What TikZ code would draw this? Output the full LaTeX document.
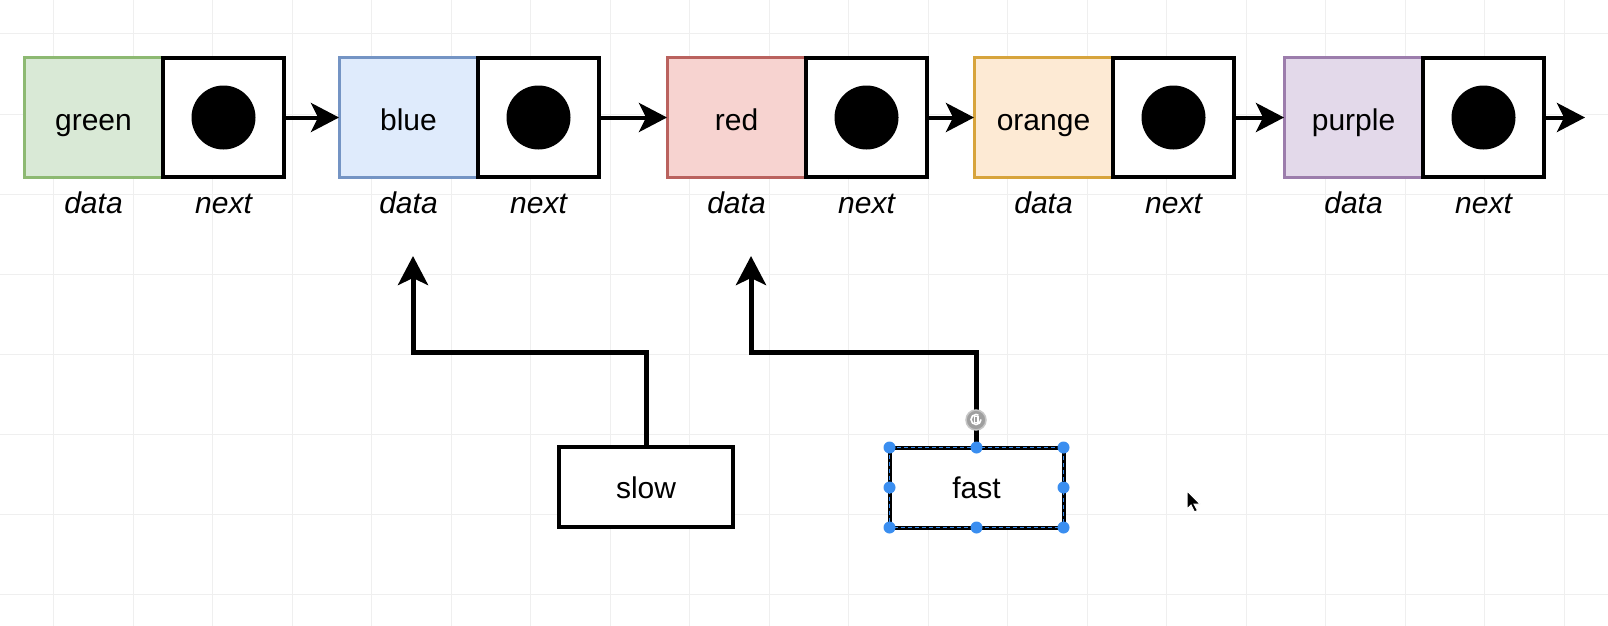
\documentclass[tikz,border=0pt]{standalone}
\usepackage{fontspec}
\setmainfont{Liberation Sans}
\usetikzlibrary{arrows.meta}
\definecolor{gfill}{HTML}{D9E9D6}
\definecolor{gdraw}{HTML}{8DB972}
\definecolor{bfill}{HTML}{DFEBFC}
\definecolor{bdraw}{HTML}{7494C4}
\definecolor{rfill}{HTML}{F7D3D0}
\definecolor{rdraw}{HTML}{BA625E}
\definecolor{ofill}{HTML}{FDEAD4}
\definecolor{odraw}{HTML}{D7A43C}
\definecolor{pfill}{HTML}{E3D9EA}
\definecolor{pdraw}{HTML}{9C7DAC}
\definecolor{gridc}{HTML}{EFEFEF}
\definecolor{handleblue}{HTML}{3A8EF0}
\begin{document}
\begin{tikzpicture}[x=1pt,y=-1pt,
 lbl/.style={font=\fontsize{30}{36}\selectfont\itshape, inner sep=0, anchor=base},
 datacell/.style={line width=3pt, minimum width=139pt, minimum height=119pt, inner sep=0, outer sep=0, anchor=west, font=\fontsize{30}{36}\selectfont, text height=26pt, text depth=0pt},
 nextcell/.style={draw=black, fill=white, line width=4pt, minimum width=121pt, minimum height=119pt, inner sep=0, outer sep=0, anchor=west},
 dot/.style={circle, fill=black, minimum size=64pt, inner sep=0},
 link/.style={line width=4pt, -{Stealth[length=28pt, width=29pt, inset=7pt]}},
 ptr/.style={line width=5pt, -{Stealth[length=29pt, width=30pt, inset=7pt]}},
 ptrbox/.style={draw=black, fill=white, line width=4pt, minimum width=174pt, minimum height=80pt, inner sep=0, outer sep=0, font=\fontsize{30}{36}\selectfont, text height=22pt, text depth=0pt},
 handle/.style={circle, fill=handleblue, minimum size=12pt, inner sep=0},
 gridline/.style={draw=gridc, line width=1pt},
]
\useasboundingbox[fill=white] (0,0) rectangle (1608,626);
% grid
\foreach \i in {0,...,19} \draw[gridline] ({53.5+79.5*\i},0) -- ({53.5+79.5*\i},626);
\foreach \j in {0,...,7} \draw[gridline] (0,{34+80*\j}) -- (1608,{34+80*\j});

% cells
\node[datacell, draw=gdraw, fill=gfill] (dg) at (24,117.5) {green};
\node[nextcell] (ng) at (dg.east) {};
\node[datacell, draw=bdraw, fill=bfill] (db) at (339,117.5) {blue};
\node[nextcell] (nb) at (db.east) {};
\node[datacell, draw=rdraw, fill=rfill] (dr) at (667,117.5) {red};
\node[nextcell] (nr) at (dr.east) {};
\node[datacell, draw=odraw, fill=ofill] (do) at (974,117.5) {orange};
\node[nextcell] (no) at (do.east) {};
\node[datacell, draw=pdraw, fill=pfill] (dp) at (1284,117.5) {purple};
\node[nextcell] (np) at (dp.east) {};

\foreach \c in {g,b,r,o,p} {
  \node[dot] (dot\c) at (n\c.center) {};
  \path (d\c.center) ++(0,95.5) node[lbl] (ld\c) {data};
  \path (n\c.center) ++(0,95.5) node[lbl] (ln\c) {next};
}

% links
\coordinate (endp) at (1585,117.5);
\draw[link] (ng.east) -- (db.west);
\draw[link] (nb.east) -- (dr.west);
\draw[link] (nr.east) -- (do.west);
\draw[link] (no.east) -- (dp.west);
\draw[link] (np.east) -- (endp);

% pointer boxes
\node[ptrbox] (slow) at (646,487) {slow};
\node[ptrbox] (fast) at (976.5,487.5) {fast};
\coordinate (slowT) at (413,256);
\coordinate (fastT) at (751,256);
\draw[ptr] (slow.north) -- (slow.north |- 0,352) -| (slowT);
\draw[ptr] (fast.north) -- (fast.north |- 0,352) -| (fastT);

% selection of fast
\draw[handleblue, line width=1.3pt, dash pattern=on 4pt off 3pt] (fast.north west) rectangle (fast.south east);
\foreach \a in {north west,north,north east,east,south east,south,south west,west}
  \node[handle] at (fast.\a) {};

% rotate handle
\node[circle, fill=gray!75, draw=gray!45, line width=1.5pt, minimum size=20pt, inner sep=0] (rot) at (976,420) {};
\draw[white, line width=1.6pt] ([shift={(0,-0.5)}]rot.center) ++(5,0) arc[start angle=0, end angle=300, radius=5];
\draw[white, line width=1.4pt] ([shift={(0,-0.5)}]rot.center) ++(-1.8,2.8) rectangle ++(3.6,-6);

% cursor
\filldraw[fill=black, draw=white, line width=1pt] (1187,491) -- ++(0,18) -- ++(4,-4) -- ++(3.5,7) -- ++(3,-1.5) -- ++(-3.5,-6.5) -- ++(6,0) -- cycle;
\end{tikzpicture}
\end{document}
